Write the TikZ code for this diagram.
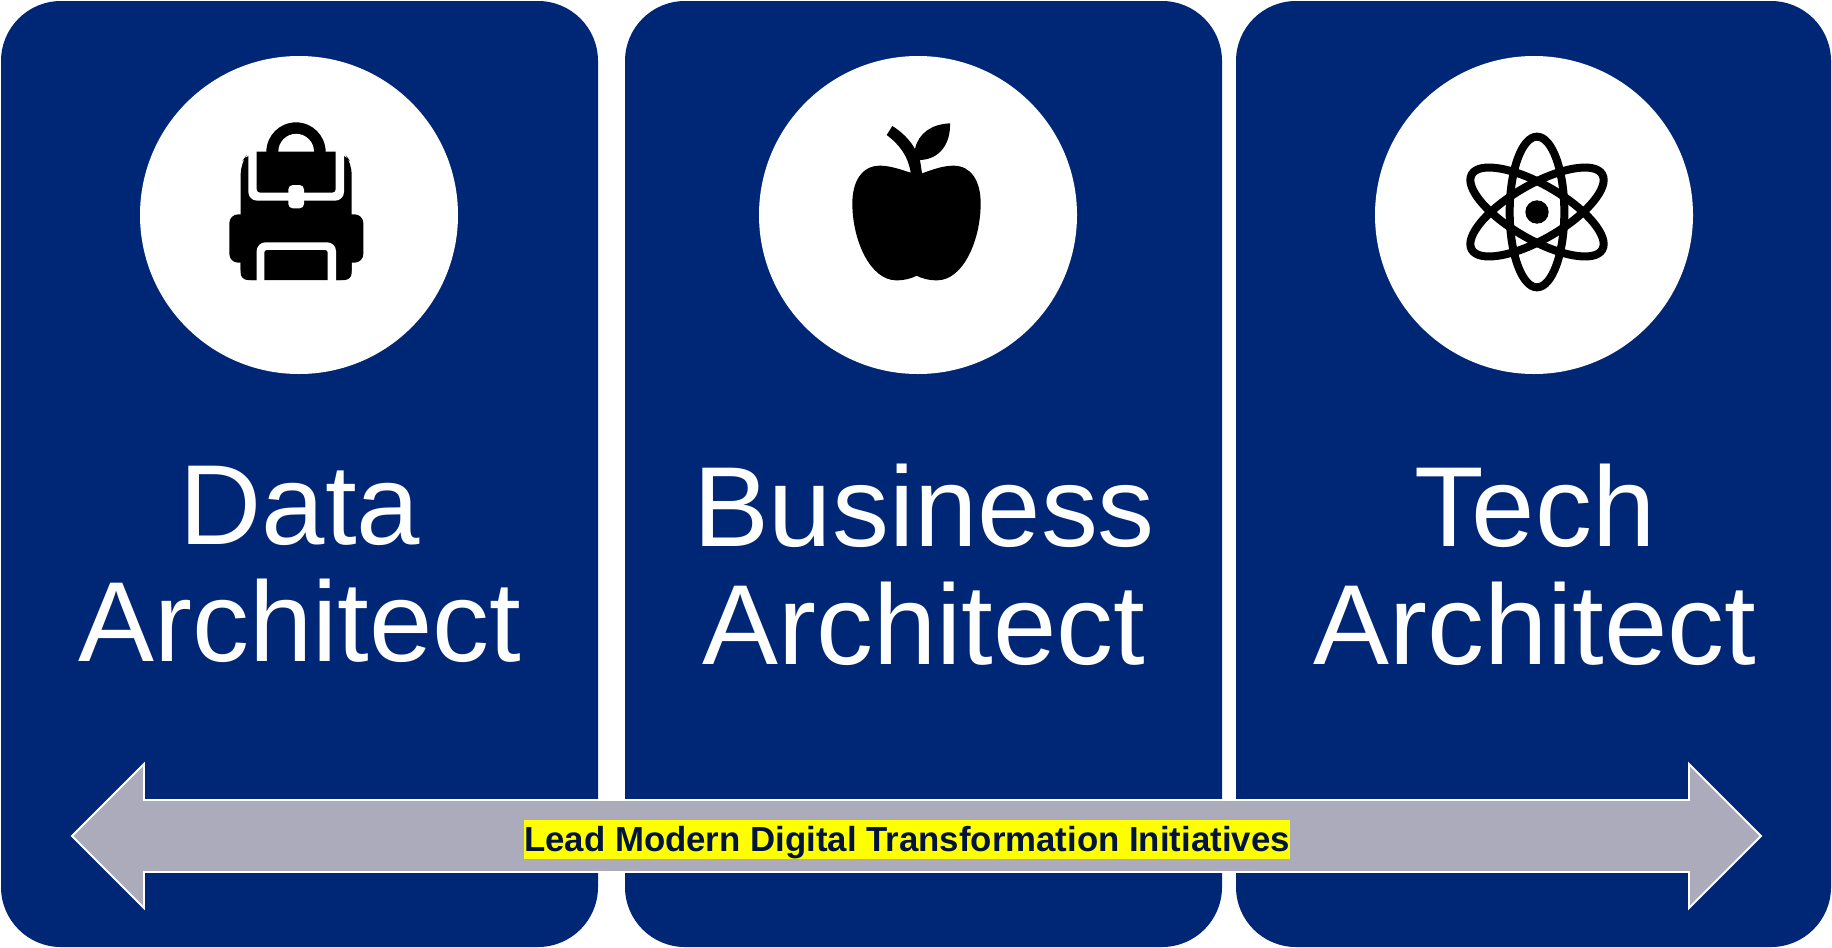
\documentclass[tikz,border=0pt]{standalone}
\usepackage{fontspec}
\setmainfont{Liberation Sans}
\usepackage{xcolor}
\definecolor{cardBlue}{HTML}{002776}
\definecolor{arrowGrey}{HTML}{ABABBC}
\definecolor{labelNavy}{HTML}{00143F}
\definecolor{markerYellow}{HTML}{FFFF00}
\tikzset{
  card/.style={fill=cardBlue, rounded corners=1.2cm},
  disc/.style={fill=white},
  role/.style={text=white, align=center, inner sep=0pt, font=\fontsize{64.8}{67}\selectfont},
  banner/.style={draw=white, fill=arrowGrey, line width=1.1pt, line join=miter},
  highlight/.style={fill=markerYellow, text=labelNavy, inner sep=0pt, minimum width=15.1cm, text height=0.62cm, text depth=0.16cm, font=\fontsize{19.8}{24}\selectfont\bfseries}
}
\begin{document}
\begin{tikzpicture}[x=0.02cm, y=-0.02cm]
    \useasboundingbox (0,0) rectangle (1832,947);
    % Parameters
    \pgfmathsetmacro{\ytop}{1};
    \pgfmathsetmacro{\ybot}{947};
    \pgfmathsetmacro{\yc}{215};
    \pgfmathsetmacro{\r}{159};
    % Cards
    \fill[card] (1,\ytop) rectangle (598,\ybot);
    \fill[card] (625,\ytop) rectangle (1222,\ybot);
    \fill[card] (1236,\ytop) rectangle (1831,\ybot);
    % Discs
    \fill[disc] (299,\yc) circle (\r);
    \fill[disc] (918,\yc) circle (\r);
    \fill[disc] (1534,\yc) circle (\r);
    % Backpack
    \begin{scope}[shift={(200,100)}, scale=1/3]
        \fill[rounded corners=6pt] (122,540) -- (122,190) -- (145,158) -- (432,158) -- (455,190) -- (455,540) -- cycle;
        \fill[rounded corners=5pt] (88,343) rectangle (490,488);
        \fill[rounded corners=4pt] (122,440) rectangle (455,540);
        \fill[white] (145,150) [rounded corners=5pt] -- (145,302) -- (432,302) [sharp corners] -- (432,150) -- cycle;
        \fill (170,155) [rounded corners=2pt] -- (170,278) -- (407,278) [sharp corners] -- (407,155) -- cycle;
        \fill (199,156) arc[start angle=180, delta angle=180, radius=89] -- cycle;
        \fill[white] (235,155) arc[start angle=180, delta angle=180, radius=53.5] -- cycle;
        \fill[white, rounded corners=2.5pt] (265,255) rectangle (312,325);
        \fill[white] (170,545) [rounded corners=5pt] -- (170,427) -- (408,427) [sharp corners] -- (408,545) -- cycle;
        \fill (193,540) [rounded corners=1.5pt] -- (193,450) -- (383,450) [sharp corners] -- (383,540) -- cycle;
    \end{scope}
    % Apple
    \begin{scope}[shift={(820,100)}, scale=1/3]
        \fill (272,218) .. controls (240,208) and (210,197) .. (180,197)
            .. controls (125,197) and (97,245) .. (97,310)
            .. controls (97,420) and (150,540) .. (228,541)
            .. controls (255,541) and (275,535) .. (290,527)
            .. controls (305,535) and (325,541) .. (352,541)
            .. controls (430,540) and (482,420) .. (482,310)
            .. controls (482,245) and (455,197) .. (400,197)
            .. controls (370,197) and (340,208) .. (306,220)
            .. controls (303,200) .. (300,180)
            .. controls (360,178) and (392,130) .. (390,70)
            .. controls (335,72) and (295,100) .. (285,147)
            .. controls (270,120) and (245,95) .. (217,78)
            -- (200,105) .. controls (240,135) and (265,170) .. (272,218) -- cycle;
    \end{scope}
    % Atom
    \begin{scope}[shift={(1537,212)}, scale=1/3]
        \draw[line width=0.16cm] (0,0) ellipse (82 and 226);
        \draw[line width=0.16cm, rotate=60] (0,0) ellipse (82 and 226);
        \draw[line width=0.16cm, rotate=-60] (0,0) ellipse (82 and 226);
        \fill (0,0) circle (35);
    \end{scope}
    % Roles
    \node[role] (dataRole) at (300,564.5) {Data\\Architect};
    \node[role] (businessRole) at (924,564.5) {Business\\Architect};
    \node[role] (techRole) at (1535,564.5) {Tech\\Architect};
    % Arrow
    \draw[banner] (72,836) -- (144,764) -- (144,800) -- (1689,800) -- (1689,764)
        -- (1761,836) -- (1689,908) -- (1689,872) -- (144,872) -- (144,908) -- cycle;
    \node[highlight] (initiatives) at (907,839.5) {Lead Modern Digital Transformation Initiatives};
\end{tikzpicture}
\end{document}
